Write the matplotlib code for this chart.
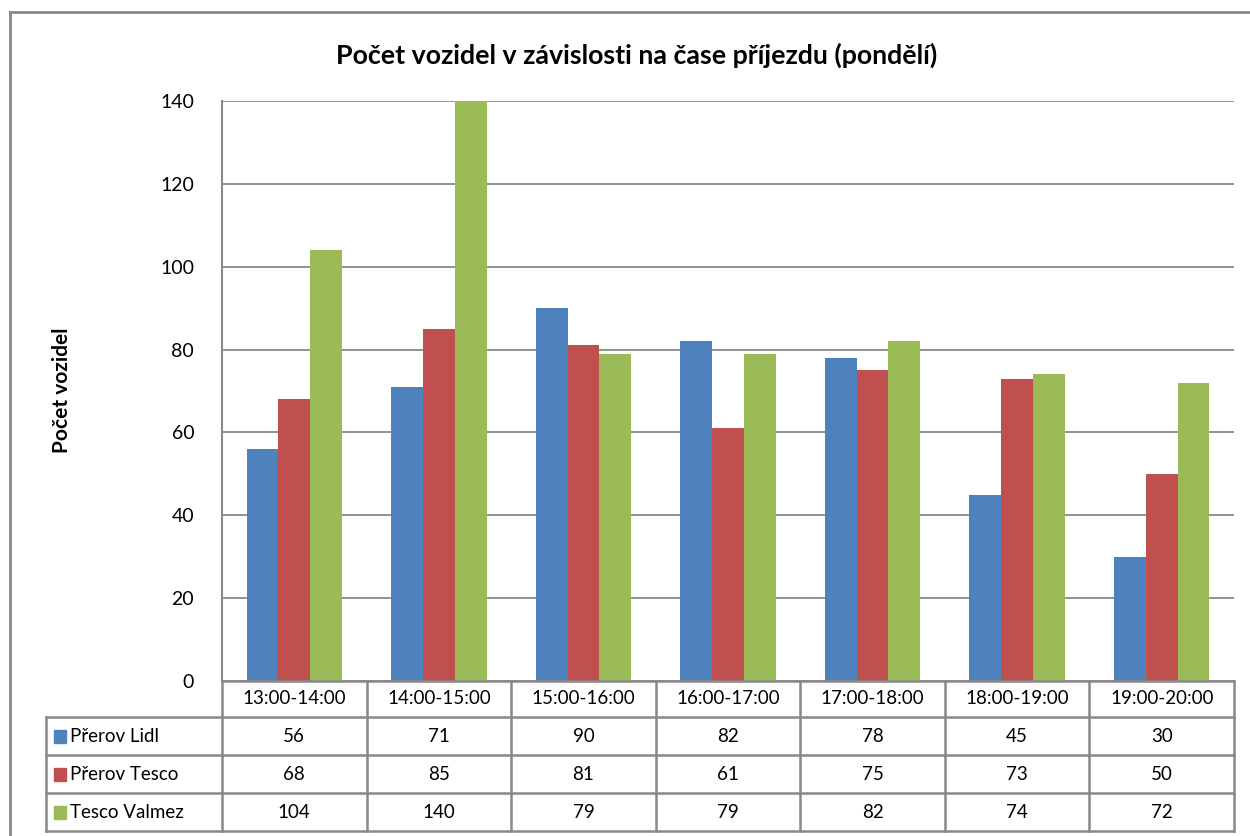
import numpy as np
import matplotlib.pyplot as plt
from matplotlib.lines import Line2D
from matplotlib.patches import Rectangle
import matplotlib.transforms as mtransforms

plt.rcParams['font.family'] = ['Lato', 'DejaVu Sans']

categories = ["13:00-14:00", "14:00-15:00", "15:00-16:00", "16:00-17:00",
              "17:00-18:00", "18:00-19:00", "19:00-20:00"]
series_names = ["Přerov Lidl", "Přerov Tesco", "Tesco Valmez"]
lidl = [56, 71, 90, 82, 78, 45, 30]
tesco = [68, 85, 81, 61, 75, 73, 50]
valmez = [104, 140, 79, 79, 82, 74, 72]
colors = ["#4F81BD", "#C0504D", "#9BBB59"]
series = [lidl, tesco, valmez]

W, H = 1250, 836
fig = plt.figure(figsize=(12.5, 8.36), dpi=100)


def fy(py):
    return 1 - py / H


def fx(px):
    return px / W


gray = "#898989"
ax_left, ax_right, ax_top, ax_bot = 222, 1234, 101, 681
ax = fig.add_axes([fx(ax_left), fy(ax_bot), fx(ax_right - ax_left), fy(ax_top) - fy(ax_bot)])

x = np.arange(len(categories))
bw = 0.22
for i, (vals, c) in enumerate(zip(series, colors)):
    ax.bar(x + (i - 1) * bw, vals, bw, color=c, zorder=3)

ax.set_xlim(-0.5, len(categories) - 0.5)
ax.set_ylim(0, 140)
ax.set_yticks(range(0, 141, 20))
ax.set_xticks([])
ax.grid(axis='y', color=gray, linewidth=1.3, zorder=0)
for s in ['top', 'right', 'bottom']:
    ax.spines[s].set_visible(False)
ax.spines['left'].set_color(gray)
ax.spines['left'].set_linewidth(1.5)
ax.tick_params(axis='y', length=0, labelsize=14, pad=20)
ax.set_ylabel("Počet vozidel", fontsize=15, fontweight='bold', labelpad=0)
ax.yaxis.set_label_coords(fx(72), fy(390), transform=fig.transFigure)

fig.text(fx(637), fy(55), "Počet vozidel v závislosti na čase příjezdu (pondělí)",
         ha='center', va='center', fontsize=19.3, fontweight='bold')

# outer chart border
fig.add_artist(Line2D([fx(10), fx(10)], [fy(12), 0], color=gray, lw=2))
fig.add_artist(Line2D([fx(10), 1], [fy(12), fy(12)], color=gray, lw=2))

# data table
tr = mtransforms.blended_transform_factory(ax.transData, fig.transFigure)
row_y = [681, 717, 755, 793, 831]
tlc = 46
lw = 1.8
fig.add_artist(Line2D([fx(ax_left), fx(ax_right)], [fy(681), fy(681)], color=gray, lw=lw))
for py in row_y[1:]:
    fig.add_artist(Line2D([fx(tlc), fx(ax_right)], [fy(py), fy(py)], color=gray, lw=lw))
fig.add_artist(Line2D([fx(tlc), fx(tlc)], [fy(717), fy(831)], color=gray, lw=lw))
for b in np.arange(len(categories) + 1) - 0.5:
    fig.add_artist(Line2D([b, b], [fy(681), fy(831)], color=gray, lw=lw, transform=tr))

fs = 13.5
for j, cat in enumerate(categories):
    fig.text(j, fy((row_y[0] + row_y[1]) / 2), cat, transform=tr,
             ha='center', va='center', fontsize=fs)
for i, (name, vals, c) in enumerate(zip(series_names, series, colors)):
    yc = fy((row_y[i + 1] + row_y[i + 2]) / 2)
    fig.add_artist(Rectangle((fx(54), yc - 6.5 / H), 12 / W, 13 / H,
                             transform=fig.transFigure, color=c))
    fig.text(fx(70), yc, name, ha='left', va='center', fontsize=fs)
    for j, v in enumerate(vals):
        fig.text(j, yc, str(v), transform=tr, ha='center', va='center', fontsize=fs)

fig.savefig("out.png", dpi=100)
